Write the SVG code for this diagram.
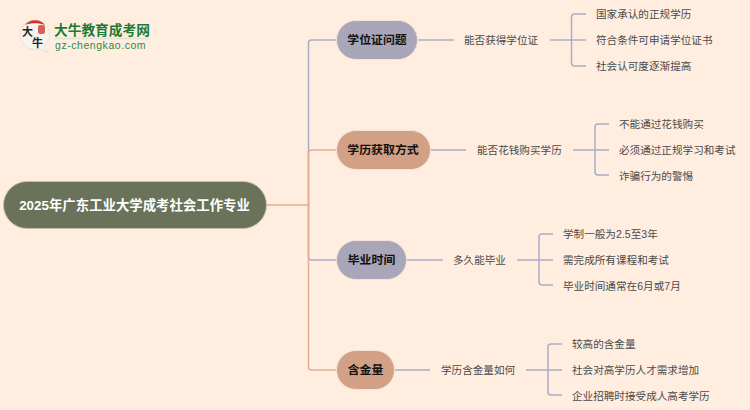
<svg xmlns="http://www.w3.org/2000/svg" width="750" height="410" viewBox="0 0 750 410">
<style>
text{font-family:"Liberation Sans","Noto Sans CJK SC",sans-serif;dominant-baseline:central}
.leaf{font-size:10.6px;fill:#4a4a4a}
.mid{font-size:10.6px;fill:#4a4a4a}
.top{font-size:11.9px;font-weight:bold;fill:#111;text-anchor:middle}
.p{fill:none;stroke:#a9adc8;stroke-width:1.5}
.t{fill:none;stroke:#e0ae94;stroke-width:1.5}
.pn{fill:#a8a6b8;stroke:#f5e2d6;stroke-width:1}
.tn{fill:#d2a085;stroke:#f5e2d6;stroke-width:1}
.lg{font-family:"Noto Sans CJK SC",sans-serif;font-size:11px;font-weight:bold;fill:#222}
</style>
<rect width="750" height="410" fill="#ffeee0"/>
<g id="connectors">
<path class="p" d="M308.500 205V43Q308.500 40 311.500 40H336"/>
<path class="t" d="M308.500 205V153Q308.500 150 311.500 150H336"/>
<path class="p" d="M308.500 205V257Q308.500 260 311.500 260H336"/>
<path class="t" d="M267 205H308.500V367Q308.500 370 311.500 370H336"/>
<path class="p" d="M418 40H454M550 40H586M571.500 17Q571.500 14 574.500 14H586M571.500 17V63Q571.500 66 574.500 66H586"/>
<path class="p" d="M431 150H466M573 150H609M595 127Q595 124 598 124H609M595 127V172Q595 175 598 175H609"/>
<path class="p" d="M407 260H443M517 260H553M539 237Q539 234 542 234H553M539 237V282Q539 285 542 285H553"/>
<path class="p" d="M395 370H430M526 370H562M548 347Q548 344 551 344H562M548 347V392Q548 395 551 395H562"/>
</g>
<g id="logo">
<path d="M35 49.500C27 49.500 20 43 20 34.500C20 26 27 20 35 20C43 20 49.500 26.500 49.500 34.500C49.500 40 47 44 43.500 46.500L48 52.500L40.500 49Z" fill="#f7f4ef" stroke="#ddd" stroke-width="0.800"/>
<path d="M25 25C29 18.500 41 18.500 45 25C39 22.500 31 22.500 25 25Z" fill="#d8322c"/>
<rect x="38" y="25" width="7" height="9" rx="2" fill="#d8605a"/>
<text class="lg" x="22" y="31">大</text>
<text class="lg" x="32" y="42">牛</text>
<text x="54" y="30" font-size="13.700" font-weight="bold" fill="#1d7a35">大牛教育成考网</text>
<path d="M54 38.500H150" stroke="#dfe3d0" stroke-width="1.500"/>
<text x="55" y="45" font-size="10.500" letter-spacing="0.550" fill="#2b8a45">gz-chengkao.com</text>
</g>
<g id="root">
<rect x="3.500" y="181.500" width="263" height="47" rx="23.500" fill="#6a7259" stroke="#c2bfa2"/>
<text x="134.500" y="205" font-size="13.400" font-weight="bold" fill="#fff" text-anchor="middle">2025年广东工业大学成考社会工作专业</text>
</g>
<g id="n1"><rect class="pn" x="336.500" y="20.500" width="81" height="39" rx="19.500"/><text class="top" x="377" y="40">学位证问题</text></g>
<g id="n1a"><text class="mid" x="464" y="40">能否获得学位证</text></g>
<g id="n1a1"><text class="leaf" x="596" y="14">国家承认的正规学历</text></g>
<g id="n1a2"><text class="leaf" x="596" y="40">符合条件可申请学位证书</text></g>
<g id="n1a3"><text class="leaf" x="596" y="65.500">社会认可度逐渐提高</text></g>
<g id="n2"><rect class="tn" x="336.500" y="130.500" width="94" height="39" rx="19.500"/><text class="top" x="383" y="150">学历获取方式</text></g>
<g id="n2a"><text class="mid" x="477" y="150">能否花钱购买学历</text></g>
<g id="n2a1"><text class="leaf" x="619" y="124">不能通过花钱购买</text></g>
<g id="n2a2"><text class="leaf" x="619" y="150">必须通过正规学习和考试</text></g>
<g id="n2a3"><text class="leaf" x="619" y="175.500">诈骗行为的警惕</text></g>
<g id="n3"><rect class="pn" x="336.500" y="240.500" width="70" height="39" rx="19.500"/><text class="top" x="371.500" y="260">毕业时间</text></g>
<g id="n3a"><text class="mid" x="453" y="260">多久能毕业</text></g>
<g id="n3a1"><text class="leaf" x="563" y="234">学制一般为2.5至3年</text></g>
<g id="n3a2"><text class="leaf" x="563" y="260">需完成所有课程和考试</text></g>
<g id="n3a3"><text class="leaf" x="563" y="285.500">毕业时间通常在6月或7月</text></g>
<g id="n4"><rect class="tn" x="336.500" y="350.500" width="58" height="39" rx="19.500"/><text class="top" x="365.500" y="370">含金量</text></g>
<g id="n4a"><text class="mid" x="441" y="370">学历含金量如何</text></g>
<g id="n4a1"><text class="leaf" x="572" y="344">较高的含金量</text></g>
<g id="n4a2"><text class="leaf" x="572" y="370">社会对高学历人才需求增加</text></g>
<g id="n4a3"><text class="leaf" x="572" y="395.500">企业招聘时接受成人高考学历</text></g>
</svg>
